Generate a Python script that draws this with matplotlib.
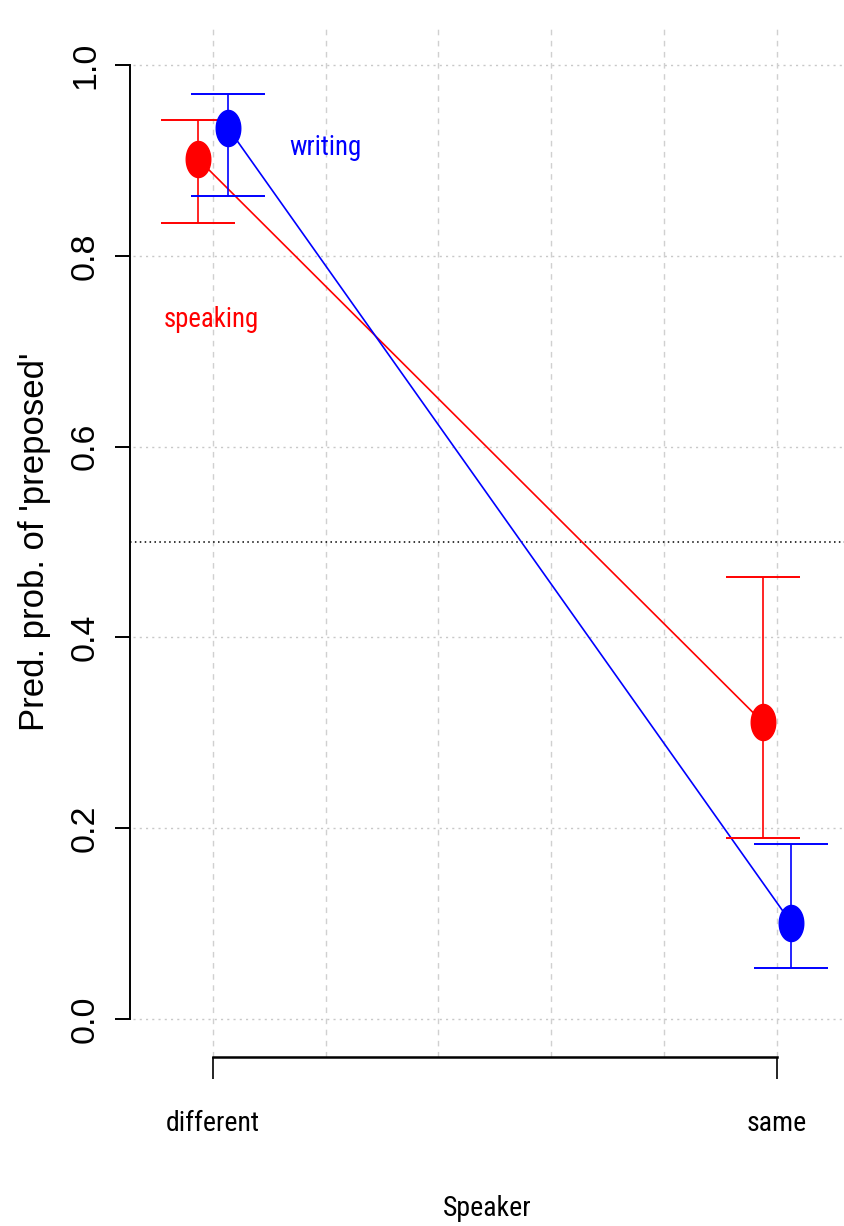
import matplotlib
matplotlib.use("Agg")
import matplotlib.pyplot as plt
import numpy as np
from matplotlib.path import Path
from matplotlib import font_manager

# ---- data ----
categories = ["different", "same"]
cat_pos = [1, 2]
speaking_x = [0.973, 1.975]
speaking_y = [0.902, 0.311]
speaking_lo = [0.835, 0.190]
speaking_hi = [0.943, 0.463]
writing_x = [1.027, 2.025]
writing_y = [0.934, 0.101]
writing_lo = [0.863, 0.053]
writing_hi = [0.970, 0.183]
yticks = [0.0, 0.2, 0.4, 0.6, 0.8, 1.0]
ytick_labels = ["0.0", "0.2", "0.4", "0.6", "0.8", "1.0"]
xgrid = [1.0, 1.2, 1.4, 1.6, 1.8, 2.0]

names = {f.name for f in font_manager.fontManager.ttflist}
narrow = "Liberation Sans"
scale = 1.0
for cand, sc in [("Liberation Sans Narrow", 1.13), ("Arial Narrow", 1.13),
                 ("Roboto Condensed", 1.085), ("Open Sans Condensed", 1.13),
                 ("Nimbus Sans Narrow", 1.13)]:
    if cand in names:
        narrow, scale = cand, sc
        break
reg = "Liberation Sans"

W, H = 844, 1226
fig = plt.figure(figsize=(W / 100, H / 100), dpi=100)
ax = fig.add_axes([130 / W, (H - 1057) / H, (W - 130) / W, (1057 - 27) / H])
ax.set_xlim(0.853, 2.119)
ax.set_ylim(-0.04, 1.04)

# grid
for gy in yticks:
    ax.axhline(gy, xmin=0.004, color="#c8c8c8", lw=1.0, ls=(0, (1.5, 3)), zorder=0)
for gx in xgrid:
    ax.axvline(gx, color="#d0d0d0", lw=1.0, ls=(0, (4, 4)), zorder=0)
ax.axhline(0.5, color="black", lw=1.1, ls=(0, (1, 2.2)), zorder=1)

# ellipse marker
t = np.linspace(0, 2 * np.pi, 60)
verts = np.column_stack([0.68 * np.cos(t), np.sin(t)])
ell = Path(verts, closed=True)

def series(xs, ys, lo, hi, color):
    ax.plot(xs, ys, color=color, lw=1.2, zorder=2)
    ys_a = np.array(ys)
    yerr = np.vstack([ys_a - np.array(lo), np.array(hi) - ys_a])
    ax.errorbar(xs, ys, yerr=yerr, fmt="none", ecolor=color, elinewidth=1.2,
                capsize=26.5, capthick=1.4, zorder=3)
    ax.plot(xs, ys, ls="none", marker=ell, ms=26, color=color, mec=color, zorder=4)

series(speaking_x, speaking_y, speaking_lo, speaking_hi, "#ff0000")
series(writing_x, writing_y, writing_lo, writing_hi, "#0000ff")

lab_fs = 17.8 * scale
ax.text(1.199, 0.914, "writing", color="#0000ff", fontsize=lab_fs, family=narrow,
        ha="center", va="center")
ax.text(0.998, 0.733, "speaking", color="#ff0000", fontsize=lab_fs, family=narrow,
        ha="center", va="center")

# spines / axes
for s in ["top", "right"]:
    ax.spines[s].set_visible(False)
ax.spines["left"].set_bounds(0, 1)
ax.spines["bottom"].set_bounds(1, 2)
ax.spines["left"].set_linewidth(1.4)
ax.spines["bottom"].set_linewidth(1.8)

ax.set_yticks(yticks)
ax.set_yticklabels(ytick_labels, rotation=90, va="center", family=reg, fontsize=24.5)
ax.tick_params(axis="y", length=10.8, width=1.4, pad=10)
ax.set_xticks(cat_pos)
ax.set_xticklabels(categories, family=narrow, fontsize=18.5 * scale)
ax.tick_params(axis="x", length=16, width=1.2, pad=22)

ax.set_xlabel("Speaker", family=narrow, fontsize=18.5 * scale, labelpad=42)
ax.set_ylabel("Pred. prob. of 'preposed'", family=reg, fontsize=25, labelpad=14)

fig.savefig("out.png", dpi=100)
